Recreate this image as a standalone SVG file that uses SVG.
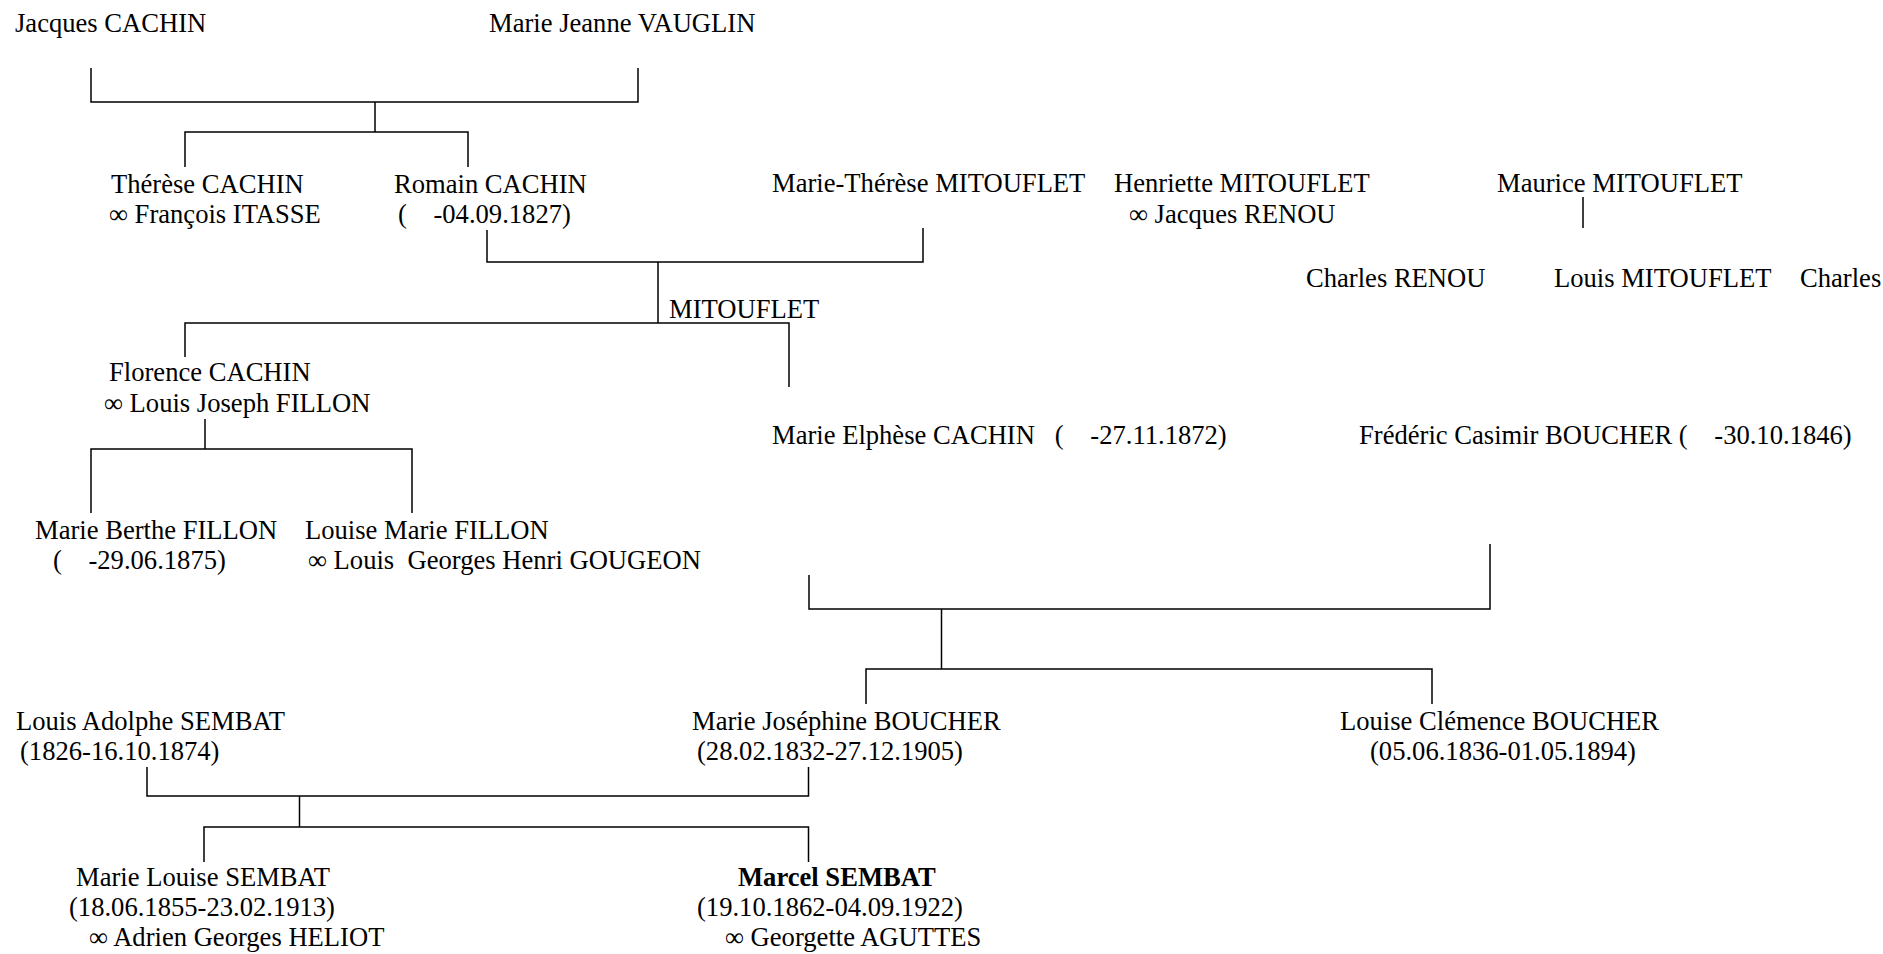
<svg xmlns="http://www.w3.org/2000/svg" width="1883" height="954" viewBox="0 0 1883 954">
<style>
text { font-family: "Liberation Serif", "Times New Roman", serif; font-size: 26.6px; fill: #000; white-space: pre; }
.b { font-weight: bold; }
.conn path { fill: none; stroke: #000; stroke-width: 1.5; }
</style>
<rect width="1883" height="954" fill="#fff"/>
<g class="conn" id="connectors">
<path d="M91,68 V102 H638 V68"/>
<path d="M375,102 V132"/>
<path d="M185,167 V132 H468 V167"/>
<path d="M487,230 V262 H923 V228"/>
<path d="M658,262 V323"/>
<path d="M185,357 V323 H789 V387"/>
<path d="M205,419 V449"/>
<path d="M91,513 V449 H412 V513"/>
<path d="M1583,197 V228"/>
<path d="M809,575 V609 H1490 V544"/>
<path d="M941.5,609 V669"/>
<path d="M866,704 V669 H1432 V704"/>
<path d="M147,767 V796 H808.5 V767"/>
<path d="M299.5,796 V827"/>
<path d="M204,862 V827 H808.5 V862"/>
</g>
<g id="jacques-cachin"><text x="15" y="32">Jacques CACHIN</text></g>
<g id="marie-jeanne-vauglin"><text x="489" y="32">Marie Jeanne VAUGLIN</text></g>
<g id="therese-cachin"><text x="111" y="193">Thérèse CACHIN</text><text x="109" y="223">∞ François ITASSE</text></g>
<g id="romain-cachin"><text x="394" y="193">Romain CACHIN</text><text x="398" y="223" xml:space="preserve">(    -04.09.1827)</text></g>
<g id="marie-therese-mitouflet"><text x="772" y="192">Marie-Thérèse MITOUFLET</text></g>
<g id="henriette-mitouflet"><text x="1114" y="192">Henriette MITOUFLET</text><text x="1129" y="223">∞ Jacques RENOU</text></g>
<g id="maurice-mitouflet"><text x="1497" y="192">Maurice MITOUFLET</text></g>
<g id="charles-renou"><text x="1306" y="287">Charles RENOU</text></g>
<g id="louis-mitouflet"><text x="1554" y="287">Louis MITOUFLET</text></g>
<g id="charles"><text x="1800" y="287">Charles</text></g>
<g id="mitouflet"><text x="669" y="318">MITOUFLET</text></g>
<g id="florence-cachin"><text x="109" y="381">Florence CACHIN</text><text x="104" y="412">∞ Louis Joseph FILLON</text></g>
<g id="marie-elphese-cachin"><text x="772" y="444" xml:space="preserve">Marie Elphèse CACHIN   (    -27.11.1872)</text></g>
<g id="frederic-casimir-boucher"><text x="1359" y="444" xml:space="preserve">Frédéric Casimir BOUCHER (    -30.10.1846)</text></g>
<g id="marie-berthe-fillon"><text x="35" y="539">Marie Berthe FILLON</text><text x="53" y="569" xml:space="preserve">(    -29.06.1875)</text></g>
<g id="louise-marie-fillon"><text x="305" y="539">Louise Marie FILLON</text><text x="308" y="569" xml:space="preserve">∞ Louis  Georges Henri GOUGEON</text></g>
<g id="louis-adolphe-sembat"><text x="16" y="730">Louis Adolphe SEMBAT</text><text x="20" y="760">(1826-16.10.1874)</text></g>
<g id="marie-josephine-boucher"><text x="692" y="730">Marie Joséphine BOUCHER</text><text x="697" y="760">(28.02.1832-27.12.1905)</text></g>
<g id="louise-clemence-boucher"><text x="1340" y="730">Louise Clémence BOUCHER</text><text x="1370" y="760">(05.06.1836-01.05.1894)</text></g>
<g id="marie-louise-sembat"><text x="76" y="886">Marie Louise SEMBAT</text><text x="69" y="916">(18.06.1855-23.02.1913)</text><text x="89" y="946">∞ Adrien Georges HELIOT</text></g>
<g id="marcel-sembat"><text class="b" x="738" y="886">Marcel SEMBAT</text><text x="697" y="916">(19.10.1862-04.09.1922)</text><text x="725" y="946">∞ Georgette AGUTTES</text></g>
</svg>
